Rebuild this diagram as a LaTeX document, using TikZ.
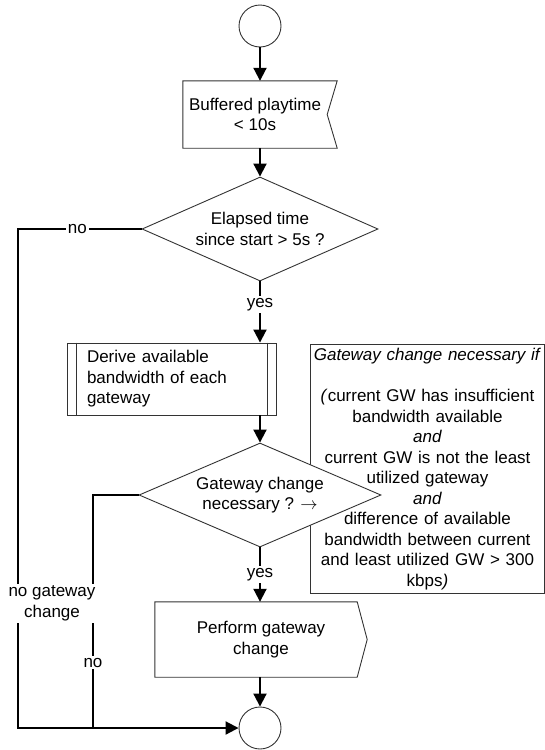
\documentclass[tikz,border=0pt]{standalone}
\usepackage{fontspec}
\setmainfont{Liberation Sans}
\usepackage{tikz}
\usetikzlibrary{positioning, arrows.meta, calc, shapes.geometric, backgrounds}
\usepackage{xcolor}
\definecolor{flowBorde}{HTML}{333333}
\definecolor{flowLinea}{HTML}{000000}

\begin{document}
\begin{tikzpicture}[x=1pt, y=-1pt, font=\fontsize{17pt}{20.5pt}\selectfont,
    caja/.style={draw=none, inner sep=0pt, align=center},
    borde/.style={draw=flowBorde, line width=0.9pt},
    conector/.style={flowLinea, line width=2pt, -{Triangle[length=13pt, width=13pt]}},
    linea/.style={flowLinea, line width=2pt},
    etiqueta/.style={fill=white, inner sep=2pt},
    terminal/.style={circle, draw=flowBorde, line width=0.9pt, minimum size=42pt, inner sep=0pt},
    decision/.style={diamond, draw=flowBorde, line width=0.9pt, fill=white, aspect=2.3, inner sep=0pt, align=center}]
        \useasboundingbox (0,0) rectangle (545,750);
        % Inicio
        \node[terminal] (inicio) at (260,26) {};
        % Condicion del buffer (caja con muesca)
        \node[caja, minimum width=144pt, minimum height=67pt] (buffer) at (255,114.5)
          {Buffered playtime\\< 10s};
        \draw[borde] (buffer.north west) -- ([xshift=10pt]buffer.north east) -- (buffer.east)
          -- ([xshift=10pt]buffer.south east) -- (buffer.south west) -- cycle;
        % Primera decision
        \node[decision, minimum width=236pt, minimum height=104pt] (tiempo) at (260,229)
          {Elapsed time\\since start > 5s ?};
        % Proceso predefinido
        \node[draw=flowBorde, line width=0.9pt, minimum height=72pt, text width=169pt,
          inner xsep=20pt, align=left] (derivar) at (171.5,379)
          {Derive available\\bandwidth of each\\gateway};
        \draw[borde] ([xshift=10pt]derivar.north west) -- ([xshift=10pt]derivar.south west);
        \draw[borde] ([xshift=-9pt]derivar.north east) -- ([xshift=-9pt]derivar.south east);
        % Segunda decision
        \node[decision, minimum width=242pt, minimum height=104pt] (cambio) at (260,495)
          {Gateway change\\necessary ? $\rightarrow$};
        % Nota (borde detras del rombo, texto delante)
        \node[caja, text width=230pt, minimum width=233pt, minimum height=248pt] (nota) at (427.5,469)
          {\textit{Gateway change necessary if}\\[20.5pt]
           \textit{(}current GW has insufficient\\
           bandwidth available\\
           \textit{and}\\
           current GW is not the least\\
           utilized gateway\\
           \textit{and}\\
           difference of available\\
           bandwidth between current\\
           and least utilized GW > 300\\
           kbps\textit{)}};
        \begin{scope}[on background layer]
          \draw[borde] (nota.north west) rectangle (nota.south east);
        \end{scope}
        % Accion (caja con punta)
        \node[caja, minimum width=212pt, minimum height=75pt] (cambiar) at (261,639.5)
          {Perform gateway\\change};
        \draw[borde] (cambiar.north west) -- ([xshift=-10pt]cambiar.north east) -- (cambiar.east)
          -- ([xshift=-10pt]cambiar.south east) -- (cambiar.south west) -- cycle;
        % Fin
        \node[terminal] (fin) at (260,728) {};
        % Conectores
        \draw[conector] (inicio.south) -- (inicio.south |- buffer.north);
        \draw[conector] (inicio.south |- buffer.south) -- (tiempo.north);
        \draw[conector] (tiempo.south) -- node[etiqueta, pos=0.38] {yes} (tiempo.south |- derivar.north);
        \draw[conector] (tiempo.south |- derivar.south) -- (cambio.north);
        \draw[conector] (cambio.south) -- node[etiqueta] {yes} (cambio.south |- cambiar.north);
        \draw[conector] (fin.north |- cambiar.south) -- (fin.north);
        % Ramas "no" por la izquierda
        \coordinate (izqInterna) at (93,728);
        \coordinate (izqExterna) at (18,728);
        \draw[linea] (cambio.west) -| node[etiqueta, pos=0.86] {no} (izqInterna);
        \draw[conector] (tiempo.west) -| node[etiqueta, pos=0.26] {no}
          node[etiqueta, pos=0.875, xshift=34pt, align=center] {no gateway\\change}
          (izqExterna) -- (fin.west);
      \end{tikzpicture}
\end{document}
